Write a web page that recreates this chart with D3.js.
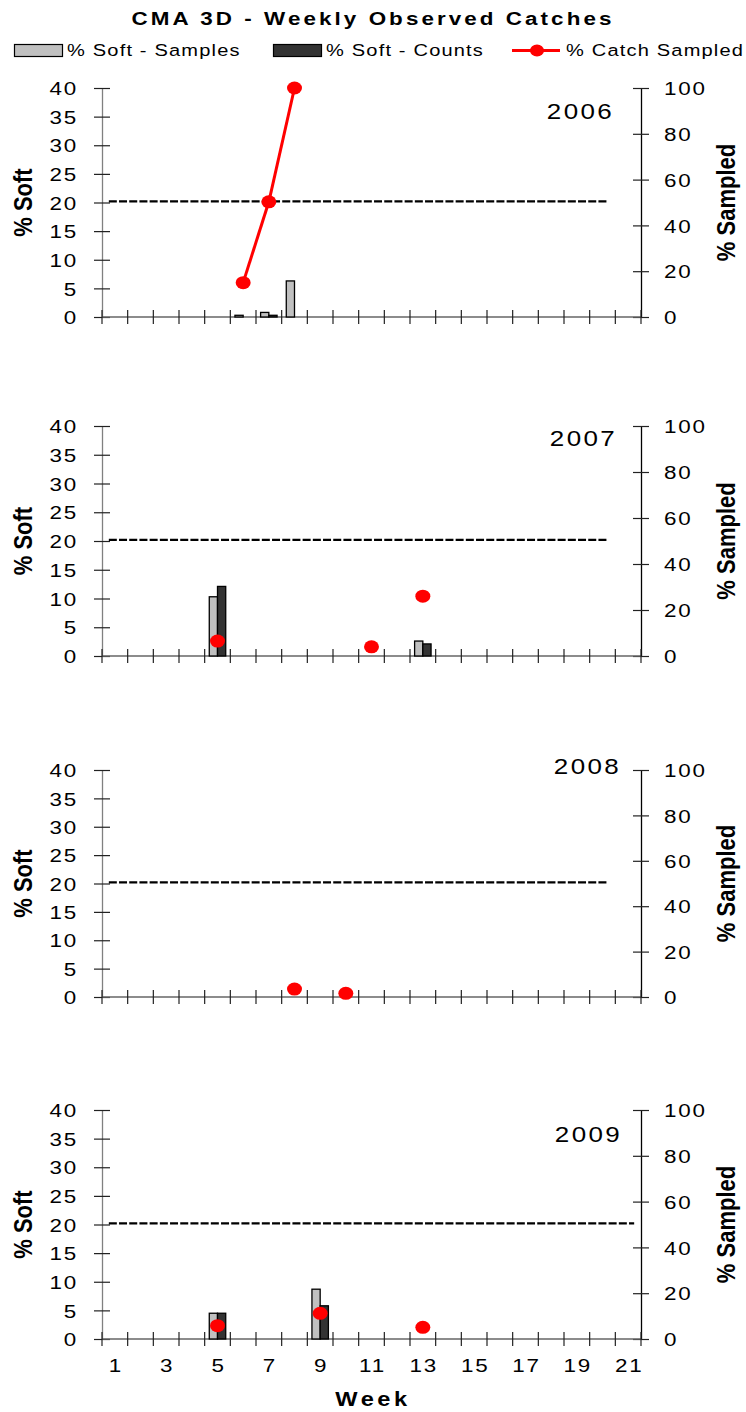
<!DOCTYPE html>
<html><head><meta charset="utf-8">
<script src="https://cdn.jsdelivr.net/npm/d3@7"></script>
<style>
html,body{margin:0;padding:0;background:#fff;}
svg{display:block;font-family:"Liberation Sans",Arial,sans-serif;}
</style></head>
<body>
<svg id="chart" width="746" height="1412"></svg>
<script>
// ---- data ----
const title = "CMA 3D - Weekly Observed Catches";
const years = ["2006", "2007", "2008", "2009"];
const weeks = d3.range(1, 22);
const weekTickLabels = [1, 3, 5, 7, 9, 11, 13, 15, 17, 19, 21];
const softTicks = [0, 5, 10, 15, 20, 25, 30, 35, 40];
const sampledTicks = [0, 20, 40, 60, 80, 100];
// [week, % soft] per year
const softSamples = [
  [[6, 0.3], [7, 0.8], [8, 6.3]],
  [[5, 10.3], [13, 2.6]],
  [],
  [[5, 4.5], [9, 8.7]]
];
const softCounts = [
  [[6, 0], [7, 0.3], [8, 0]],
  [[5, 12.1], [13, 2.1]],
  [],
  [[5, 4.5], [9, 5.8]]
];
// [week, % catch sampled] per year
const catchSampled = [
  [[6, 15], [7, 50.3], [8, 100]],
  [[5, 6.5], [11, 4.0], [13, 26]],
  [[8, 3.5], [10, 1.6]],
  [[5, 5.8], [9, 11.2], [13, 5.1]]
];
// 20% soft threshold line, drawn from week 1 to last week
const thresholdValue = [20.2, 20.2, 20.2, 20.2];
const thresholdLastWeek = [20, 20, 20, 21];

// ---- layout ----
const SX = 1.18; // horizontal stretch of the original's text
const svg = d3.select("#chart");
const panelTop = [88, 426, 770, 1110];
const panelBottom = [317, 656, 997, 1339];
const left = 102, right = 641;
const x = d3.scaleBand().domain(weeks).range([left, right]).padding(0);
const xSub = d3.scaleBand().domain(["s", "c"]).range([0, x.bandwidth()]).paddingInner(0).paddingOuter(0.56);
const cx = w => x(w) + x.bandwidth() / 2;

function stext(parent, px, py, str, o) {
  const t = parent.append("text")
    .attr("transform", `translate(${px},${py}) scale(${SX},1)` + (o.rot ? " rotate(-90)" : ""))
    .attr("text-anchor", o.anchor || "start")
    .attr("font-size", o.size)
    .attr("font-weight", o.bold ? "bold" : null)
    .attr("letter-spacing", o.ls || 0)
    .text(str);
  return t;
}

// title
stext(svg, 373, 25, title, {anchor: "middle", size: 19, bold: true, ls: 2.6});

// legend
const lg = svg.append("g");
lg.append("rect").attr("x", 14.5).attr("y", 44.5).attr("width", 48).attr("height", 12)
  .attr("fill", "#c0c0c0").attr("stroke", "#000").attr("stroke-width", 1.2);
stext(lg, 67, 56, "% Soft - Samples", {size: 17, ls: 1});
lg.append("rect").attr("x", 273.5).attr("y", 44.5).attr("width", 48).attr("height", 12)
  .attr("fill", "#333").attr("stroke", "#000").attr("stroke-width", 1.2);
stext(lg, 326, 56, "% Soft - Counts", {size: 17, ls: 1});
lg.append("line").attr("x1", 512).attr("x2", 560).attr("y1", 50.5).attr("y2", 50.5)
  .attr("stroke", "#ff0000").attr("stroke-width", 3);
lg.append("ellipse").attr("cx", 537).attr("cy", 50.5).attr("rx", 7).attr("ry", 6).attr("fill", "#ff0000");
stext(lg, 566, 56, "% Catch Sampled", {size: 17, ls: 1});

years.forEach((yr, i) => {
  const g = svg.append("g");
  const top = panelTop[i], bot = panelBottom[i];
  const yL = d3.scaleLinear().domain([0, 40]).range([bot, top]);
  const yR = d3.scaleLinear().domain([0, 100]).range([bot, top]);

  // left axis
  const la = g.append("g").attr("transform", `translate(${left},0)`)
    .call(d3.axisLeft(yL).tickValues(softTicks).tickSize(0).tickPadding(0));
  la.select(".domain").attr("stroke", "#808080").attr("stroke-width", 1.3);
  la.selectAll(".tick text").attr("x", 0).attr("dy", "0.35em")
    .attr("transform", `translate(-24,0) scale(${SX},1)`)
    .attr("font-size", 19).attr("letter-spacing", 1.5)
    .attr("fill", "#000").attr("font-family", '"Liberation Sans",Arial,sans-serif');
  la.selectAll(".tick").append("line").attr("x1", -8).attr("x2", 8)
    .attr("stroke", "#222").attr("stroke-width", 1.2);

  // right axis
  const ra = g.append("g").attr("transform", `translate(${right},0)`)
    .call(d3.axisRight(yR).tickValues(sampledTicks).tickSize(0).tickPadding(0));
  ra.select(".domain").attr("stroke", "#000").attr("stroke-width", 1.3);
  ra.selectAll(".tick text").attr("x", 0).attr("dy", "0.35em")
    .attr("transform", `translate(23,0) scale(${SX},1)`)
    .attr("font-size", 19).attr("letter-spacing", 1.5)
    .attr("fill", "#000").attr("font-family", '"Liberation Sans",Arial,sans-serif');
  ra.selectAll(".tick").append("line").attr("x1", -8).attr("x2", 8)
    .attr("stroke", "#222").attr("stroke-width", 1.2);

  // x axis
  const xa = g.append("g").attr("transform", `translate(0,${bot})`);
  xa.append("line").attr("x1", left).attr("x2", right).attr("stroke", "#666").attr("stroke-width", 1.3);
  const bounds = weeks.map(w => x(w)).concat([x(weeks[weeks.length - 1]) + x.bandwidth()]);
  xa.selectAll("line.tk").data(bounds).join("line").attr("class", "tk")
    .attr("x1", d => d).attr("x2", d => d).attr("y1", -7).attr("y2", 7)
    .attr("stroke", "#222").attr("stroke-width", 1.2);
  if (i === years.length - 1) {
    weekTickLabels.forEach(w => stext(xa, cx(w) + 1, 33, w, {anchor: "middle", size: 19, ls: 1.5}));
    stext(xa, 373, 67, "Week", {anchor: "middle", size: 20, bold: true, ls: 3});
  }

  // axis titles
  const mid = (top + bot) / 2;
  stext(g, 31.5, mid, "% Soft", {anchor: "middle", size: 22, bold: true, rot: true});
  stext(g, 735, mid, "% Sampled", {anchor: "middle", size: 22, bold: true, rot: true});

  // year label
  const yrY = [119, 446, 774, 1142][i];
  stext(g, [614, 617, 621, 622][i], yrY, yr, {anchor: "end", size: 22, ls: 2});

  // threshold dashed line (dash markers extend 6px beyond end points)
  const thr = weeks.filter(w => w <= thresholdLastWeek[i]).map(w => [w, thresholdValue[i]]);
  const thrPts = [[cx(thr[0][0]) - 6, yL(thr[0][1])]]
    .concat(thr.map(d => [cx(d[0]), yL(d[1])]))
    .concat([[cx(thr[thr.length - 1][0]) + 6, yL(thr[thr.length - 1][1])]]);
  g.append("path").attr("d", d3.line()(thrPts))
    .attr("fill", "none").attr("stroke", "#000").attr("stroke-width", 2.4).attr("stroke-dasharray", "8,2.2");

  // bars
  const barW = xSub.bandwidth();
  g.selectAll("rect.bs").data(softSamples[i]).join("rect").attr("class", "bs")
    .attr("x", d => x(d[0]) + xSub("s")).attr("width", barW)
    .attr("y", d => yL(d[1])).attr("height", d => yL(0) - yL(d[1]))
    .attr("fill", "#c0c0c0").attr("stroke", "#000").attr("stroke-width", 1.3);
  g.selectAll("rect.bc").data(softCounts[i]).join("rect").attr("class", "bc")
    .attr("x", d => x(d[0]) + xSub("c")).attr("width", barW)
    .attr("y", d => yL(d[1])).attr("height", d => yL(0) - yL(d[1]))
    .attr("fill", "#333").attr("stroke", "#000").attr("stroke-width", 1.3);

  // catch sampled line: connect consecutive weeks only
  const pts = catchSampled[i];
  const segs = [];
  for (let k = 1; k < pts.length; k++) {
    if (pts[k][0] - pts[k - 1][0] === 1) segs.push([pts[k - 1], pts[k]]);
  }
  g.selectAll("path.cs").data(segs).join("path").attr("class", "cs")
    .attr("d", d3.line().x(d => cx(d[0])).y(d => yR(d[1])))
    .attr("fill", "none").attr("stroke", "#ff0000").attr("stroke-width", 3);
  g.selectAll("ellipse.cp").data(pts).join("ellipse").attr("class", "cp")
    .attr("cx", d => cx(d[0])).attr("cy", d => yR(d[1])).attr("rx", 7.5).attr("ry", 6.5)
    .attr("fill", "#ff0000");
});
</script>
</body></html>
